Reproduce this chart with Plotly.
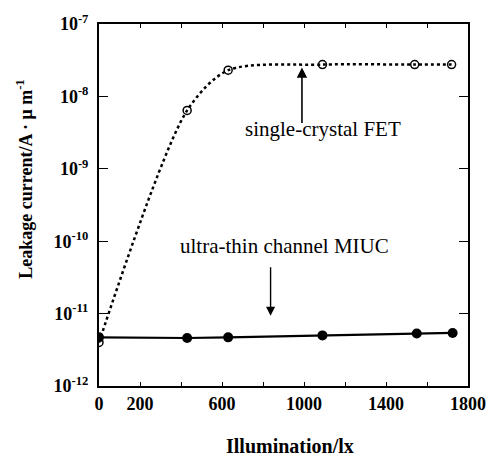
import plotly.graph_objects as go

# Data
fet_x = [0, 430, 630, 1090, 1540, 1720]
fet_y = [4.0e-12, 6.4e-9, 2.3e-8, 2.75e-8, 2.75e-8, 2.75e-8]

miuc_x = [0, 430, 630, 1090, 1550, 1725]
miuc_y = [4.7e-12, 4.6e-12, 4.7e-12, 5.0e-12, 5.3e-12, 5.4e-12]

x_ticks = [0, 200, 600, 1000, 1400, 1800]
y_exps = [-12, -11, -10, -9, -8, -7]

FONT = "Liberation Serif"

fig = go.Figure()
fig.add_trace(go.Scatter(
    x=fet_x, y=fet_y, mode="lines+markers",
    line=dict(color="black", width=2.5, dash="dot", shape="spline", smoothing=0.8),
    marker=dict(symbol="circle-open", size=8, color="black", line=dict(width=1.5)),
    showlegend=False))
fig.add_trace(go.Scatter(
    x=miuc_x, y=miuc_y, mode="lines+markers",
    line=dict(color="black", width=2.2),
    marker=dict(symbol="circle", size=10, color="black"),
    showlegend=False))

fig.update_xaxes(
    range=[0, 1800], tickvals=x_ticks, ticktext=["<b>%d</b>" % v for v in x_ticks],
    showline=True, linecolor="black", linewidth=2, mirror="ticks",
    ticks="inside", ticklen=4, tickcolor="black",
    showgrid=False, zeroline=False,
    tickfont=dict(family=FONT, size=18, color="black"),
    minor=dict(dtick=200, ticks="inside", ticklen=4, tickcolor="black"))
fig.update_yaxes(
    type="log", range=[-12, -7],
    tickvals=[10 ** e for e in y_exps],
    ticktext=["<b>10<sup>%d</sup></b>" % e for e in y_exps],
    showline=True, linecolor="black", linewidth=2, mirror="ticks",
    ticks="inside", ticklen=9, tickcolor="black",
    ticklabelstandoff=5,
    showgrid=False, zeroline=False,
    tickfont=dict(family=FONT, size=18, color="black"))

W, H = 500, 461
L, R, T, B = 99, 32, 21, 75


def px_to_paper(px, py):
    return (px - L) / (W - L - R), (H - B - py) / (H - T - B)


# axis titles (placed as in the reference)
tx, ty = px_to_paper(290, 446)
fig.add_annotation(x=tx, y=ty, xref="paper", yref="paper", xanchor="center", yanchor="middle",
                   text="<b>Illumination/lx</b>",
                   showarrow=False, font=dict(family=FONT, size=20, color="black"))
tx, ty = px_to_paper(25, 178)
fig.add_annotation(x=tx, y=ty, xref="paper", yref="paper", xanchor="center", yanchor="middle",
                   text="<b>Leakage current/A · μ m<sup>-1</sup></b>",
                   showarrow=False, textangle=-90, font=dict(family=FONT, size=18, color="black"))

fig.add_annotation(x=1094, y=-8.45, xref="x", yref="y", text="single-crystal FET",
                   showarrow=False, font=dict(family=FONT, size=21, color="black"))
fig.add_annotation(x=990, y=-7.6, xref="x", yref="y", text="", showarrow=True,
                   ax=0, ay=57, arrowhead=2, arrowsize=1.3, arrowwidth=1.6, arrowcolor="black")
fig.add_annotation(x=905, y=-10.07, xref="x", yref="y", text="ultra-thin channel MIUC",
                   showarrow=False, font=dict(family=FONT, size=21, color="black"))
fig.add_annotation(x=837, y=-11.03, xref="x", yref="y", text="", showarrow=True,
                   ax=0, ay=-50, arrowhead=2, arrowsize=1.3, arrowwidth=1.4, arrowcolor="black")

fig.update_layout(
    width=W, height=H,
    font=dict(family=FONT),
    margin=dict(l=L, r=R, t=T, b=B),
    paper_bgcolor="white", plot_bgcolor="white")

fig.write_html("out.html")
